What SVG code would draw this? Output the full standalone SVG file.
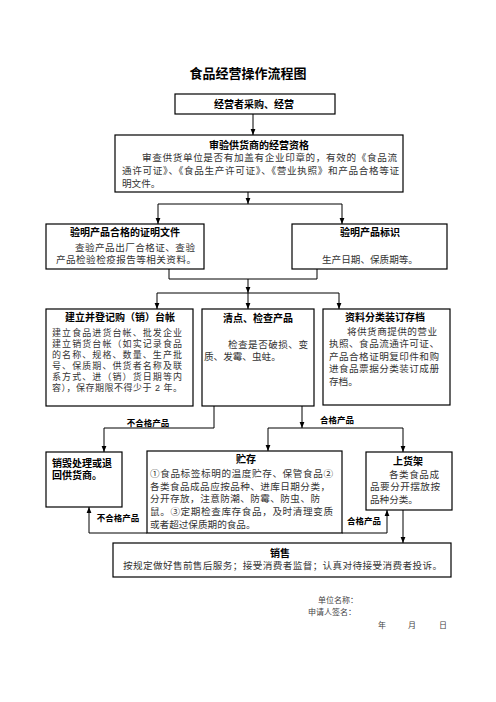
<svg xmlns="http://www.w3.org/2000/svg" width="496" height="702" viewBox="0 0 496 702">
<style>
.bx{fill:#fff;stroke:#000;stroke-width:1.2}
text{font-family:"Liberation Sans","Noto Sans CJK SC",sans-serif}
.h{font-size:13px;font-weight:bold;text-anchor:middle;fill:#000}
.t{font-size:10px;font-weight:bold;text-anchor:middle;fill:#000}
.tl{font-size:10px;font-weight:bold;fill:#000}
.x{font-size:9.6px;fill:#333}
.xs{font-size:9px;fill:#333}
.xm{font-size:9.6px;fill:#333;text-anchor:middle}
.lb{font-size:8.5px;font-weight:bold;text-anchor:middle;fill:#000}
.f{font-size:8px;fill:#444}
.c{fill:none;stroke:#000;stroke-width:1}
</style>
<defs>
<marker id="a" viewBox="0 0 6 6" refX="6" refY="3" markerWidth="6" markerHeight="6" orient="auto" markerUnits="userSpaceOnUse">
<path d="M0,0.6 L6,3 L0,5.4 z" fill="#000"/>
</marker>
</defs>
<rect width="496" height="702" fill="#fff"/>
<text class="h" x="248" y="77.5">食品经营操作流程图</text>

<g id="connectors">
<path class="c" d="M253,114 V135" marker-end="url(#a)"/>
<path class="c" d="M248,192 V204" marker-end="url(#a)"/>
<path class="c" d="M158,204 H342"/>
<path class="c" d="M158,204 V224" marker-end="url(#a)"/>
<path class="c" d="M342,204 V224" marker-end="url(#a)"/>
<path class="c" d="M169,269 V279 H317 V269"/>
<path class="c" d="M248,279 V293" marker-end="url(#a)"/>
<path class="c" d="M157,293 H339"/>
<path class="c" d="M157,293 V309" marker-end="url(#a)"/>
<path class="c" d="M248,293 V309" marker-end="url(#a)"/>
<path class="c" d="M339,293 V309" marker-end="url(#a)"/>
<path class="c" d="M214,406 V428 H104 V452" marker-end="url(#a)"/>
<path class="c" d="M302,406 V428" marker-end="url(#a)"/>
<path class="c" d="M268,428 H403"/>
<path class="c" d="M268,428 V451" marker-end="url(#a)"/>
<path class="c" d="M403,428 V452" marker-end="url(#a)"/>
<path class="c" d="M147,533 H89 V507" marker-end="url(#a)"/>
<path class="c" d="M342,533 H387 V510" marker-end="url(#a)"/>
<path class="c" d="M403,510 V543" marker-end="url(#a)"/>
<text class="lb" x="148" y="426">不合格产品</text>
<text class="lb" x="337" y="423">合格产品</text>
<text class="lb" x="118" y="521">不合格产品</text>
<text class="lb" x="364" y="524">合格产品</text>
</g>

<g id="n1">
<rect class="bx" x="175" y="94" width="160" height="20"/>
<text class="t" x="254" y="107.5">经营者采购、经营</text>
</g>

<g id="n2">
<rect class="bx" x="115" y="135" width="288" height="57"/>
<text class="t" x="259" y="148.5">审验供货商的经营资格</text>
<text class="x"><tspan x="142" y="160.5" textLength="255" lengthAdjust="spacing">审查供货单位是否有加盖有企业印章的，有效的《食品流</tspan><tspan x="122" y="173.5" textLength="277" lengthAdjust="spacing">通许可证》、《食品生产许可证》、《营业执照》和产品合格等证</tspan><tspan x="122" y="186.5">明文件。</tspan></text>
</g>

<g id="n3">
<rect class="bx" x="46" y="224" width="158" height="45"/>
<text class="t" x="125" y="235.5">验明产品合格的证明文件</text>
<text class="x"><tspan x="75" y="250.5" textLength="120" lengthAdjust="spacing">查验产品出厂合格证、查验</tspan><tspan x="56" y="262.5" textLength="140" lengthAdjust="spacing">产品检验检疫报告等相关资料。</tspan></text>
</g>

<g id="n4">
<rect class="bx" x="292" y="224" width="155" height="45"/>
<text class="t" x="370" y="235.5">验明产品标识</text>
<text class="xm" x="370" y="262.5">生产日期、保质期等。</text>
</g>

<g id="n5">
<rect class="bx" x="46" y="309" width="147" height="97"/>
<text class="t" x="120" y="320.5">建立并登记购（销）台帐</text>
<text class="xs"><tspan x="52" y="335.5" textLength="130" lengthAdjust="spacing">建立食品进货台帐、批发企业</tspan><tspan x="52" y="346.5" textLength="130" lengthAdjust="spacing">建立销货台帐（如实记录食品</tspan><tspan x="52" y="357.5" textLength="130" lengthAdjust="spacing">的名称、规格、数量、生产批</tspan><tspan x="52" y="368.5" textLength="130" lengthAdjust="spacing">号、保质期、供货者名称及联</tspan><tspan x="52" y="379.5" textLength="130" lengthAdjust="spacing">系方式、进（销）货日期等内</tspan><tspan x="52" y="390.5" textLength="130" lengthAdjust="spacing">容），保存期限不得少于 2 年。</tspan></text>
</g>

<g id="n6">
<rect class="bx" x="202" y="309" width="112" height="97"/>
<text class="t" x="258" y="321.5">清点、检查产品</text>
<text class="x"><tspan x="228" y="347.5" textLength="80" lengthAdjust="spacing">检查是否破损、变</tspan><tspan x="204" y="359.5">质、发霉、虫蛀。</tspan></text>
</g>

<g id="n7">
<rect class="bx" x="323" y="309" width="127" height="96"/>
<text class="t" x="385" y="320.5">资料分类装订存档</text>
<text class="x"><tspan x="347" y="334.5" textLength="90" lengthAdjust="spacing">将供货商提供的营业</tspan><tspan x="329" y="347" textLength="110" lengthAdjust="spacing">执照、食品流通许可证、</tspan><tspan x="329" y="359.5" textLength="110" lengthAdjust="spacing">产品合格证明复印件和购</tspan><tspan x="329" y="372" textLength="110" lengthAdjust="spacing">进食品票据分类装订成册</tspan><tspan x="329" y="384.5">存档。</tspan></text>
</g>

<g id="n8">
<rect class="bx" x="46" y="452" width="76" height="55"/>
<text class="tl"><tspan x="52" y="466.5">销毁处理或退</tspan><tspan x="52" y="478.5">回供货商。</tspan></text>
</g>

<g id="n9">
<rect class="bx" x="147" y="451" width="195" height="82"/>
<text class="t" x="246" y="462.5">贮存</text>
<text class="x"><tspan x="150" y="476.5" textLength="183" lengthAdjust="spacing">①食品标签标明的温度贮存、保管食品②</tspan><tspan x="150" y="489.5" textLength="180" lengthAdjust="spacing">各类食品成品应按品种、进库日期分类，</tspan><tspan x="150" y="501.5" textLength="170" lengthAdjust="spacing">分开存放，注意防潮、防霉、防虫、防</tspan><tspan x="150" y="514.5" textLength="183" lengthAdjust="spacing">鼠。③定期检查库存食品，及时清理变质</tspan><tspan x="150" y="527.5">或者超过保质期的食品。</tspan></text>
</g>

<g id="n10">
<rect class="bx" x="366" y="452" width="86" height="58"/>
<text class="t" x="408" y="464.5">上货架</text>
<text class="x"><tspan x="389" y="477.5" textLength="50" lengthAdjust="spacing">各类食品成</tspan><tspan x="370" y="489.5" textLength="70" lengthAdjust="spacing">品要分开摆放按</tspan><tspan x="370" y="502.5">品种分类。</tspan></text>
</g>

<g id="n11">
<rect class="bx" x="113" y="543" width="338" height="34"/>
<text class="t" x="280" y="556.5">销售</text>
<text class="x" x="123" y="568.5" textLength="319" lengthAdjust="spacing">按规定做好售前售后服务；接受消费者监督；认真对待接受消费者投诉。</text>
</g>

<g id="footer">
<text class="f" x="318" y="603">单位名称：</text>
<text class="f" x="308" y="615">申请人签名：</text>
<text class="f" x="378" y="628">年</text>
<text class="f" x="408" y="628">月</text>
<text class="f" x="439" y="628">日</text>
</g>
</svg>
